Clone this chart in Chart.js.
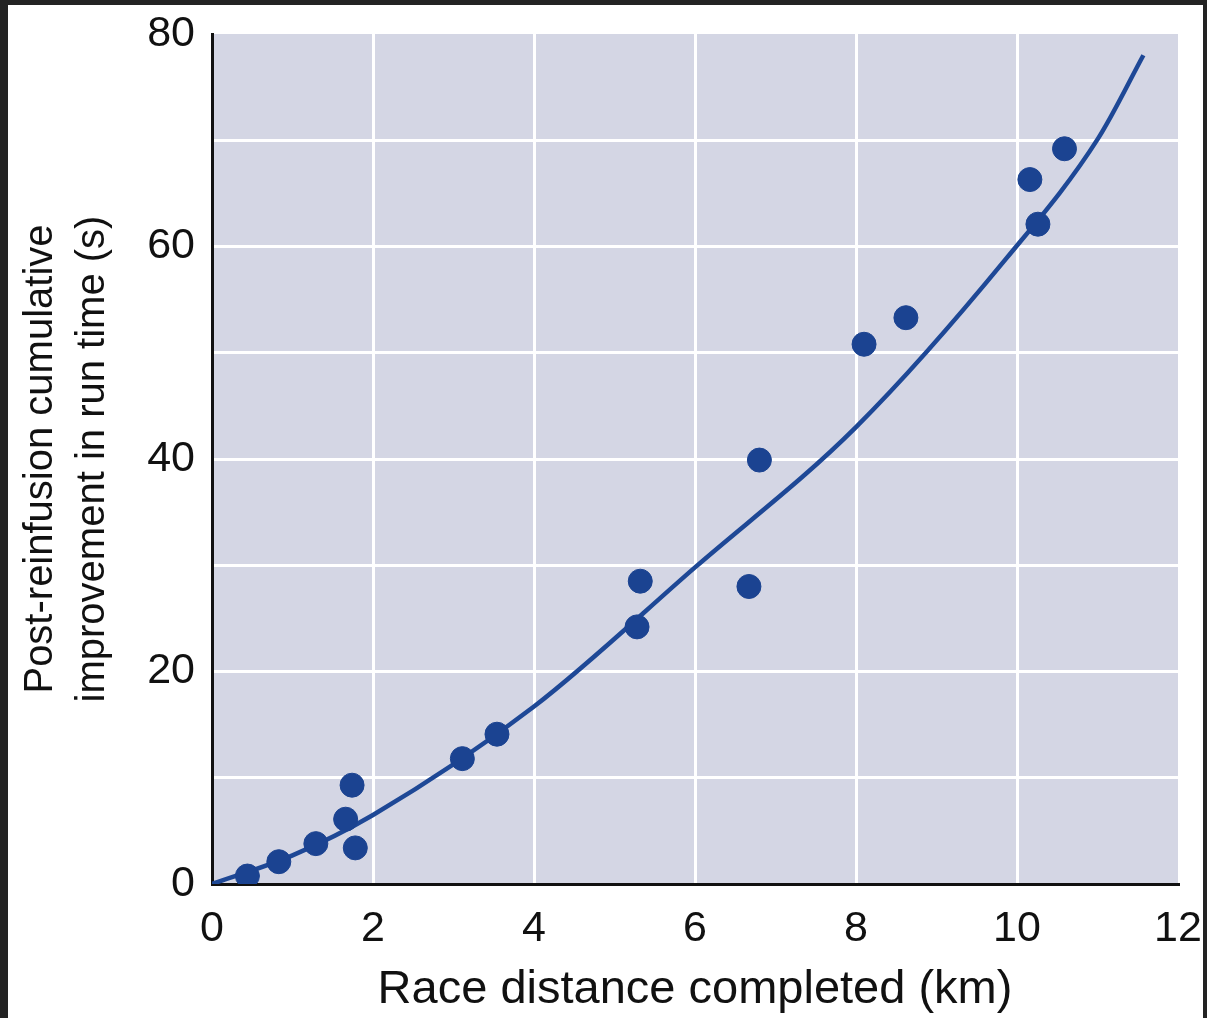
<!DOCTYPE html>
<html lang="en">
<head>
    <meta charset="UTF-8">
    <title>Race distance vs run time improvement</title>
    <style>
        html, body {
            margin: 0;
            padding: 0;
            background-color: #232323;
        }
        .panel {
            position: absolute;
            left: 8px;
            top: 5px;
            width: 1195px;
            height: 1013px;
            background-color: #fff;
        }
    </style>
</head>
<body>
<div class="panel">
    <canvas id="chart" width="1195" height="1013"></canvas>
</div>

<script src="https://cdn.jsdelivr.net/npm/chart.js@4.4.1/dist/chart.umd.min.js"></script>
<script>
// measured points (km, s)
const distanceKm     = [0.44, 0.83, 1.29, 1.66, 1.74, 1.78, 3.11, 3.54, 5.28, 5.32, 6.67, 6.80, 8.10, 8.62, 10.16, 10.26, 10.59];
const improvementSec = [0.75, 2.1, 3.8, 6.1, 9.3, 3.4, 11.8, 14.1, 24.2, 28.5, 28.0, 39.9, 50.8, 53.3, 66.3, 62.1, 69.2];

// fitted curve
const fitKm  = [0, 1.0, 2.0, 4.0, 6.0, 8.0, 9.87, 11.01, 11.57];
const fitSec = [0, 2.7, 6.5, 16.7, 29.8, 43.0, 58.9, 70.2, 78.0];

const xTicks = [0, 2, 4, 6, 8, 10, 12];
const yTicks = [0, 20, 40, 60, 80];

const blue = "#1b4391";
const fontFamily = "'Liberation Sans', Arial, Helvetica, sans-serif";

const plotBackground = {
    id: "plotBackground",
    beforeDraw(chart) {
        const { ctx, chartArea: a } = chart;
        ctx.save();
        ctx.fillStyle = "#d4d6e4";
        ctx.fillRect(a.left, a.top, a.right - a.left, a.bottom - a.top);
        ctx.restore();
    }
};

// tick labels may hang over the plot edges, don't let them shrink the plot
function noLabelPadding(s) {
    s.paddingTop = 0;
    s.paddingBottom = 0;
    s.paddingLeft = 0;
    s.paddingRight = 0;
}

new Chart(document.getElementById("chart"), {
    type: "scatter",
    data: {
        datasets: [{
            label: "Measured",
            data: distanceKm.map((x, i) => ({ x: x, y: improvementSec[i] })),
            backgroundColor: blue,
            borderColor: blue,
            pointRadius: 12,
            pointHoverRadius: 12,
            order: 1
        }, {
            label: "Fit",
            data: fitKm.map((x, i) => ({ x: x, y: fitSec[i] })),
            showLine: true,
            borderColor: "#1e4896",
            borderWidth: 4.5,
            pointRadius: 0,
            cubicInterpolationMode: "monotone",
            order: 2
        }]
    },
    options: {
        responsive: false,
        animation: false,
        layout: { padding: { top: 29, right: 25, left: 0, bottom: 0 } },
        plugins: {
            legend: { display: false },
            tooltip: { enabled: false }
        },
        scales: {
            x: {
                type: "linear",
                min: 0,
                max: 12,
                afterBuildTicks: s => { s.ticks = xTicks.map(v => ({ value: v })); },
                afterFit: s => { s.height = 134; noLabelPadding(s); },
                grid: {
                    drawTicks: false,
                    lineWidth: 3,
                    color: c => (c.tick && (c.tick.value === 0 || c.tick.value === 12)) ? "rgba(0,0,0,0)" : "#ffffff"
                },
                border: { display: true, color: "#111", width: 3 },
                ticks: {
                    padding: 19,
                    color: "#111",
                    font: { family: fontFamily, size: 43 }
                },
                title: {
                    display: true,
                    text: "Race distance completed (km)",
                    color: "#111",
                    padding: 0,
                    font: { family: fontFamily, size: 47, lineHeight: 1.2 }
                }
            },
            y: {
                type: "linear",
                min: 0,
                max: 80,
                afterFit: s => { s.width = 204; noLabelPadding(s); },
                grid: {
                    drawTicks: false,
                    lineWidth: 3,
                    color: c => (c.tick && (c.tick.value === 0 || c.tick.value === 80)) ? "rgba(0,0,0,0)" : "#ffffff"
                },
                border: { display: true, color: "#111", width: 3 },
                ticks: {
                    stepSize: 10,
                    padding: 17,
                    color: "#111",
                    font: { family: fontFamily, size: 43 },
                    callback: v => yTicks.includes(v) ? v : ""
                },
                title: {
                    display: true,
                    text: ["Post-reinfusion cumulative", "improvement in run time (s)"],
                    color: "#111",
                    padding: { top: 7, bottom: 0 },
                    font: { family: fontFamily, size: 40, lineHeight: 1.3 }
                }
            }
        }
    },
    plugins: [plotBackground]
});
</script>
</body>
</html>
